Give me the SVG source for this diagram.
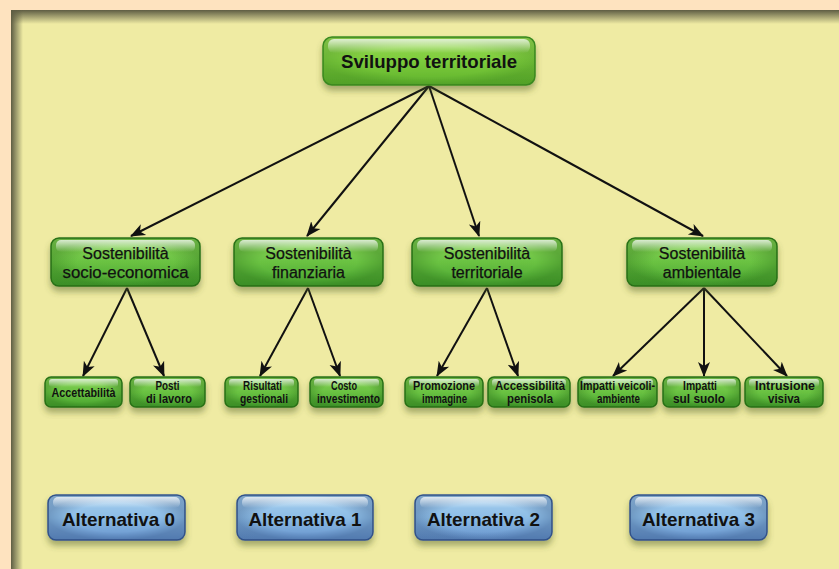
<svg xmlns="http://www.w3.org/2000/svg" width="839" height="569" viewBox="0 0 839 569">
  <defs>
    <style>
      .bg { fill: #FEE3BF; }
      .panel { fill: #EFEBA3; }
      .box-root { fill: url(#gRoot); stroke: #3E8E22; stroke-width: 1.5; filter: url(#shadow); }
      .box-green { fill: url(#gGreen); stroke: #2A7419; stroke-width: 1.5; filter: url(#shadow); }
      .box-blue { fill: url(#gBlue); stroke: #34568F; stroke-width: 1.5; filter: url(#shadow); }
      .rim-green { fill: url(#gRimGreen); }
      .rim-blue { fill: url(#gRimBlue); }
      .gloss { fill: url(#gGloss); }
      .t-root { font-family: "Liberation Sans", Arial, sans-serif; font-weight: bold; font-size: 19px; fill: #111; text-anchor: middle; }
      .t-mid { font-family: "Liberation Sans", Arial, sans-serif; font-size: 16px; fill: #111; stroke: #111; stroke-width: 0.25; text-anchor: middle; }
      .t-leaf { font-family: "Liberation Sans", Arial, sans-serif; font-weight: bold; font-size: 12px; fill: #111; text-anchor: middle; }
      .t-alt { font-family: "Liberation Sans", Arial, sans-serif; font-weight: bold; font-size: 19px; fill: #111; text-anchor: middle; }
      .arrow { stroke: #111; stroke-width: 2; fill: none; marker-end: url(#head); }
    </style>
    <linearGradient id="gRoot" x1="0" y1="0" x2="0" y2="1">
      <stop offset="0" stop-color="#9BDA55"/>
      <stop offset="0.5" stop-color="#7CCB3C"/>
      <stop offset="1" stop-color="#5FB22C"/>
    </linearGradient>
    <linearGradient id="gGreen" x1="0" y1="0" x2="0" y2="1">
      <stop offset="0" stop-color="#8AD458"/>
      <stop offset="0.5" stop-color="#6AC242"/>
      <stop offset="1" stop-color="#47A22E"/>
    </linearGradient>
    <linearGradient id="gBlue" x1="0" y1="0" x2="0" y2="1">
      <stop offset="0" stop-color="#A6CFEF"/>
      <stop offset="0.5" stop-color="#8DBDE6"/>
      <stop offset="1" stop-color="#6592CB"/>
    </linearGradient>
    <radialGradient id="gRimGreen" cx="0.5" cy="0.5" r="0.5">
      <stop offset="0.65" stop-color="#1E5E10" stop-opacity="0"/>
      <stop offset="1" stop-color="#1E5E10" stop-opacity="0.3"/>
    </radialGradient>
    <radialGradient id="gRimBlue" cx="0.5" cy="0.5" r="0.5">
      <stop offset="0.65" stop-color="#23406E" stop-opacity="0"/>
      <stop offset="1" stop-color="#23406E" stop-opacity="0.3"/>
    </radialGradient>
    <linearGradient id="gGloss" x1="0" y1="0" x2="0" y2="1">
      <stop offset="0" stop-color="#FFFFFF" stop-opacity="0.75"/>
      <stop offset="1" stop-color="#FFFFFF" stop-opacity="0"/>
    </linearGradient>
    <linearGradient id="gTop" x1="0" y1="0" x2="0" y2="1">
      <stop offset="0" stop-color="#5E5D43"/>
      <stop offset="1" stop-color="#5E5D43" stop-opacity="0"/>
    </linearGradient>
    <linearGradient id="gLeft" x1="0" y1="0" x2="1" y2="0">
      <stop offset="0" stop-color="#5E5D43"/>
      <stop offset="1" stop-color="#5E5D43" stop-opacity="0"/>
    </linearGradient>
    <filter id="shadow" x="-10%" y="-20%" width="120%" height="160%">
      <feDropShadow dx="0" dy="5" stdDeviation="3" flood-color="#4A5A20" flood-opacity="0.45"/>
    </filter>
    <marker id="head" markerUnits="userSpaceOnUse" markerWidth="15" markerHeight="15" viewBox="0 0 15 14" refX="14" refY="7" orient="auto">
      <path d="M0,1 L15,7 L0,13 L4,7 Z" fill="#111"/>
    </marker>
  </defs>

  <!-- page and panel -->
  <rect class="bg" x="0" y="0" width="839" height="569"/>
  <rect class="panel" x="11" y="10" width="828" height="559"/>
  <rect x="11" y="10" width="828" height="14" fill="url(#gTop)"/>
  <rect x="11" y="10" width="12" height="559" fill="url(#gLeft)"/>

  <!-- connectors -->
  <g id="connectors">
    <line class="arrow" x1="429" y1="86" x2="131" y2="236"/>
    <line class="arrow" x1="429" y1="86" x2="307" y2="236"/>
    <line class="arrow" x1="429" y1="86" x2="479" y2="236"/>
    <line class="arrow" x1="429" y1="86" x2="703" y2="236"/>

    <line class="arrow" x1="127" y1="288" x2="83" y2="376"/>
    <line class="arrow" x1="127" y1="288" x2="164" y2="376"/>
    <line class="arrow" x1="308" y1="288" x2="260" y2="376"/>
    <line class="arrow" x1="308" y1="288" x2="340" y2="376"/>
    <line class="arrow" x1="487" y1="288" x2="437" y2="376"/>
    <line class="arrow" x1="487" y1="288" x2="518" y2="376"/>
    <line class="arrow" x1="704" y1="288" x2="613" y2="376"/>
    <line class="arrow" x1="704" y1="288" x2="704" y2="376"/>
    <line class="arrow" x1="704" y1="288" x2="787" y2="376"/>
  </g>

  <!-- root -->
  <g id="sviluppo">
    <rect class="box-root" x="323" y="37" width="212" height="48" rx="9"/>
    <rect class="rim-green" x="323" y="37" width="212" height="48" rx="9" opacity="0.7"/>
    <rect class="gloss" x="328" y="39" width="202" height="14" rx="6"/>
    <text class="t-root" x="429" y="68" textLength="176" lengthAdjust="spacingAndGlyphs">Sviluppo territoriale</text>
  </g>

  <!-- second level -->
  <g id="socio-economica">
    <rect class="box-green" x="51" y="238" width="149" height="48" rx="8"/>
    <rect class="rim-green" x="51" y="238" width="149" height="48" rx="8"/>
    <rect class="gloss" x="56" y="240" width="139" height="12" rx="5"/>
    <text class="t-mid" x="125.5" y="259">Sostenibilità</text>
    <text class="t-mid" x="125.5" y="278" textLength="126" lengthAdjust="spacingAndGlyphs">socio-economica</text>
  </g>
  <g id="finanziaria">
    <rect class="box-green" x="234" y="238" width="149" height="48" rx="8"/>
    <rect class="rim-green" x="234" y="238" width="149" height="48" rx="8"/>
    <rect class="gloss" x="239" y="240" width="139" height="12" rx="5"/>
    <text class="t-mid" x="308.5" y="259">Sostenibilità</text>
    <text class="t-mid" x="308.5" y="278">finanziaria</text>
  </g>
  <g id="territoriale">
    <rect class="box-green" x="412" y="238" width="150" height="48" rx="8"/>
    <rect class="rim-green" x="412" y="238" width="150" height="48" rx="8"/>
    <rect class="gloss" x="417" y="240" width="140" height="12" rx="5"/>
    <text class="t-mid" x="487" y="259">Sostenibilità</text>
    <text class="t-mid" x="487" y="278">territoriale</text>
  </g>
  <g id="ambientale">
    <rect class="box-green" x="627" y="238" width="150" height="48" rx="8"/>
    <rect class="rim-green" x="627" y="238" width="150" height="48" rx="8"/>
    <rect class="gloss" x="632" y="240" width="140" height="12" rx="5"/>
    <text class="t-mid" x="702" y="259">Sostenibilità</text>
    <text class="t-mid" x="702" y="278">ambientale</text>
  </g>

  <!-- third level -->
  <g id="accettabilita">
    <rect class="box-green" x="45" y="377" width="77" height="30" rx="6"/>
    <rect class="rim-green" x="45" y="377" width="77" height="30" rx="6"/>
    <rect class="gloss" x="49" y="379" width="69" height="8" rx="3"/>
    <text class="t-leaf" x="83.5" y="397" textLength="64" lengthAdjust="spacingAndGlyphs">Accettabilità</text>
  </g>
  <g id="posti-lavoro">
    <rect class="box-green" x="130" y="377" width="75" height="30" rx="6"/>
    <rect class="rim-green" x="130" y="377" width="75" height="30" rx="6"/>
    <rect class="gloss" x="134" y="379" width="67" height="8" rx="3"/>
    <text class="t-leaf" x="167.5" y="390" textLength="24" lengthAdjust="spacingAndGlyphs">Posti</text>
    <text class="t-leaf" x="169" y="403" textLength="46" lengthAdjust="spacingAndGlyphs">di lavoro</text>
  </g>
  <g id="risultati-gestionali">
    <rect class="box-green" x="225" y="377" width="73" height="30" rx="6"/>
    <rect class="rim-green" x="225" y="377" width="73" height="30" rx="6"/>
    <rect class="gloss" x="229" y="379" width="65" height="8" rx="3"/>
    <text class="t-leaf" x="262.5" y="390" textLength="39" lengthAdjust="spacingAndGlyphs">Risultati</text>
    <text class="t-leaf" x="264" y="403" textLength="48" lengthAdjust="spacingAndGlyphs">gestionali</text>
  </g>
  <g id="costo-investimento">
    <rect class="box-green" x="310" y="377" width="73" height="30" rx="6"/>
    <rect class="rim-green" x="310" y="377" width="73" height="30" rx="6"/>
    <rect class="gloss" x="314" y="379" width="65" height="8" rx="3"/>
    <text class="t-leaf" x="344" y="390" textLength="26" lengthAdjust="spacingAndGlyphs">Costo</text>
    <text class="t-leaf" x="348.5" y="403" textLength="63" lengthAdjust="spacingAndGlyphs">investimento</text>
  </g>
  <g id="promozione-immagine">
    <rect class="box-green" x="405" y="377" width="78" height="30" rx="6"/>
    <rect class="rim-green" x="405" y="377" width="78" height="30" rx="6"/>
    <rect class="gloss" x="409" y="379" width="70" height="8" rx="3"/>
    <text class="t-leaf" x="444" y="390" textLength="62" lengthAdjust="spacingAndGlyphs">Promozione</text>
    <text class="t-leaf" x="444.5" y="403" textLength="45" lengthAdjust="spacingAndGlyphs">immagine</text>
  </g>
  <g id="accessibilita-penisola">
    <rect class="box-green" x="488" y="377" width="82" height="30" rx="6"/>
    <rect class="rim-green" x="488" y="377" width="82" height="30" rx="6"/>
    <rect class="gloss" x="492" y="379" width="74" height="8" rx="3"/>
    <text class="t-leaf" x="530" y="390" textLength="70" lengthAdjust="spacingAndGlyphs">Accessibilità</text>
    <text class="t-leaf" x="530" y="403" textLength="46" lengthAdjust="spacingAndGlyphs">penisola</text>
  </g>
  <g id="impatti-veicoli">
    <rect class="box-green" x="578" y="377" width="79" height="30" rx="6"/>
    <rect class="rim-green" x="578" y="377" width="79" height="30" rx="6"/>
    <rect class="gloss" x="582" y="379" width="71" height="8" rx="3"/>
    <text class="t-leaf" x="617.5" y="390" textLength="75" lengthAdjust="spacingAndGlyphs">Impatti veicoli-</text>
    <text class="t-leaf" x="618.5" y="403" textLength="43" lengthAdjust="spacingAndGlyphs">ambiente</text>
  </g>
  <g id="impatti-suolo">
    <rect class="box-green" x="663" y="377" width="77" height="30" rx="6"/>
    <rect class="rim-green" x="663" y="377" width="77" height="30" rx="6"/>
    <rect class="gloss" x="667" y="379" width="69" height="8" rx="3"/>
    <text class="t-leaf" x="700" y="390" textLength="34" lengthAdjust="spacingAndGlyphs">Impatti</text>
    <text class="t-leaf" x="699" y="403" textLength="52" lengthAdjust="spacingAndGlyphs">sul suolo</text>
  </g>
  <g id="intrusione-visiva">
    <rect class="box-green" x="745" y="377" width="78" height="30" rx="6"/>
    <rect class="rim-green" x="745" y="377" width="78" height="30" rx="6"/>
    <rect class="gloss" x="749" y="379" width="70" height="8" rx="3"/>
    <text class="t-leaf" x="785" y="390" textLength="60" lengthAdjust="spacingAndGlyphs">Intrusione</text>
    <text class="t-leaf" x="784" y="403" textLength="32" lengthAdjust="spacingAndGlyphs">visiva</text>
  </g>

  <!-- alternatives -->
  <g id="alternativa-0">
    <rect class="box-blue" x="48" y="495" width="137" height="45" rx="8"/>
    <rect class="rim-blue" x="48" y="495" width="137" height="45" rx="8"/>
    <rect class="gloss" x="53" y="497" width="127" height="11" rx="5"/>
    <text class="t-alt" x="118.5" y="526" textLength="113" lengthAdjust="spacingAndGlyphs">Alternativa 0</text>
  </g>
  <g id="alternativa-1">
    <rect class="box-blue" x="237" y="495" width="136" height="45" rx="8"/>
    <rect class="rim-blue" x="237" y="495" width="136" height="45" rx="8"/>
    <rect class="gloss" x="242" y="497" width="126" height="11" rx="5"/>
    <text class="t-alt" x="305" y="526" textLength="113" lengthAdjust="spacingAndGlyphs">Alternativa 1</text>
  </g>
  <g id="alternativa-2">
    <rect class="box-blue" x="415" y="495" width="137" height="45" rx="8"/>
    <rect class="rim-blue" x="415" y="495" width="137" height="45" rx="8"/>
    <rect class="gloss" x="420" y="497" width="127" height="11" rx="5"/>
    <text class="t-alt" x="483.5" y="526" textLength="113" lengthAdjust="spacingAndGlyphs">Alternativa 2</text>
  </g>
  <g id="alternativa-3">
    <rect class="box-blue" x="630" y="495" width="137" height="45" rx="8"/>
    <rect class="rim-blue" x="630" y="495" width="137" height="45" rx="8"/>
    <rect class="gloss" x="635" y="497" width="127" height="11" rx="5"/>
    <text class="t-alt" x="698.5" y="526" textLength="113" lengthAdjust="spacingAndGlyphs">Alternativa 3</text>
  </g>
</svg>
